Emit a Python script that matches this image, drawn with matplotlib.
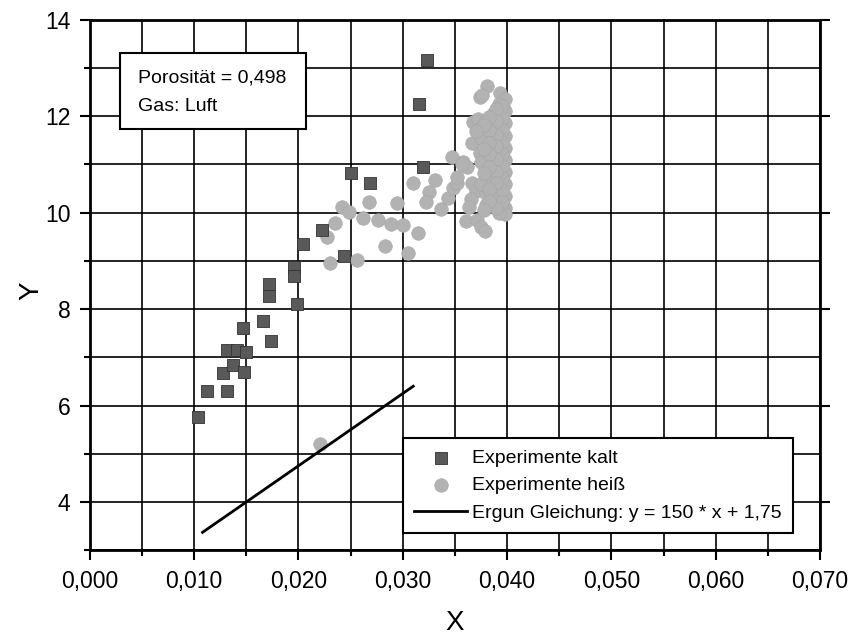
import numpy as np
import matplotlib.pyplot as plt
from matplotlib.patches import Rectangle
from matplotlib.ticker import MultipleLocator, FuncFormatter

plt.rcParams['font.family'] = ['Liberation Sans', 'DejaVu Sans']

# Experimente kalt (Quadrate)
x_kalt = [0.01035, 0.0112, 0.0131, 0.0128, 0.0137, 0.0148, 0.0131, 0.0141, 0.0150,
          0.0147, 0.0166, 0.0174, 0.0199, 0.0172, 0.0172, 0.0196, 0.0196, 0.0204,
          0.0223, 0.0244, 0.0250, 0.0269, 0.0316, 0.0323, 0.0319]
y_kalt = [5.76, 6.30, 6.30, 6.68, 6.84, 6.70, 7.15, 7.15, 7.11,
          7.61, 7.76, 7.34, 8.11, 8.52, 8.28, 8.88, 8.68, 9.35,
          9.64, 9.10, 10.83, 10.62, 12.26, 13.17, 10.95]

# Experimente heiss (Kreise)
x_heiss = [0.0221,
           0.0230, 0.0227, 0.0235, 0.0242, 0.0248, 0.0256, 0.0262, 0.0268, 0.0276,
           0.0283, 0.0289, 0.0294, 0.0300, 0.0305, 0.0310, 0.0315,
           0.0331, 0.0325, 0.0322, 0.0337, 0.0343, 0.0348, 0.0352, 0.0347, 0.0358,
           0.0362, 0.0366, 0.0370, 0.0365, 0.0363, 0.0361, 0.0371, 0.0375, 0.0379,
           0.0366, 0.0374, 0.0384, 0.0367, 0.0372, 0.0374, 0.0381, 0.0393, 0.0396,
           0.0376,
           0.0398, 0.0398, 0.0398, 0.0398, 0.0398, 0.0398, 0.0398, 0.0398, 0.0398,
           0.0398, 0.0398,
           0.0392, 0.0392, 0.0392, 0.0392, 0.0392, 0.0392, 0.0392, 0.0392, 0.0392,
           0.0392,
           0.0386, 0.0386, 0.0386, 0.0386, 0.0386, 0.0386, 0.0386, 0.0386,
           0.0380, 0.0380, 0.0380, 0.0380, 0.0380, 0.0380, 0.0380,
           0.0375, 0.0375, 0.0375, 0.0375,
           0.0395, 0.0395, 0.0395, 0.0395, 0.0395, 0.0395, 0.0395, 0.0395, 0.0395,
           0.0389, 0.0389, 0.0389, 0.0389, 0.0389, 0.0389, 0.0389, 0.0389,
           0.0383, 0.0383, 0.0383, 0.0383, 0.0383, 0.0383, 0.0383,
           0.0378, 0.0378, 0.0378, 0.0378, 0.0370, 0.0357, 0.0352]
y_heiss = [5.20,
           8.96, 9.50, 9.79, 10.12, 10.02, 9.02, 9.89, 10.22, 9.85,
           9.31, 9.77, 10.20, 9.75, 9.17, 10.62, 9.58,
           10.68, 10.42, 10.22, 10.08, 10.30, 10.52, 10.62, 11.16, 11.05,
           10.95, 10.62, 10.45, 10.28, 10.12, 9.82, 9.85, 9.70, 9.62,
           11.45, 11.24, 11.37, 11.88, 11.95, 12.40, 12.62, 12.48, 12.20,
           12.44,
           12.35, 12.10, 11.85, 11.60, 11.35, 11.10, 10.85, 10.60, 10.35,
           10.10, 9.98,
           12.25, 11.95, 11.70, 11.45, 11.20, 10.95, 10.70, 10.45, 10.20,
           10.00,
           12.05, 11.80, 11.55, 11.30, 11.05, 10.80, 10.55, 10.30,
           11.90, 11.65, 11.15, 10.90, 10.75, 10.40, 10.15,
           11.75, 11.55, 11.05, 10.60,
           12.22, 11.97, 11.72, 11.47, 11.22, 10.97, 10.72, 10.47, 10.22,
           12.15, 11.90, 11.62, 11.38, 11.12, 10.85, 10.62, 10.10,
           11.98, 11.72, 11.45, 11.22, 10.95, 10.50, 10.25,
           11.82, 11.32, 10.82, 10.05, 11.70, 11.00, 10.75]

# Ergun-Gleichung y = 150 * x + 1,75
steigung = 150
achse = 1.75
x_ergun = np.array([0.0108, 0.0310])
y_ergun = steigung * x_ergun + achse

fig = plt.figure(figsize=(8.56, 6.39), dpi=100)
ax = fig.add_axes([0.105, 0.139, 0.853, 0.830])

ax.scatter(x_heiss, y_heiss, s=9.8**2, marker='o', color='#b2b2b2',
           edgecolors='#a6a6a6', linewidths=0.4, zorder=3, label='Experimente heiß')
ax.scatter(x_kalt, y_kalt, s=8.6**2, marker='s', color='#595959',
           edgecolors='#333333', linewidths=0.6, zorder=4, label='Experimente kalt')
ax.plot(x_ergun, y_ergun, color='black', lw=2, zorder=5,
        label='Ergun Gleichung: y = 150 * x + 1,75')

ax.set_xlim(0, 0.07)
ax.set_ylim(3, 14)
ax.xaxis.set_major_locator(MultipleLocator(0.01))
ax.xaxis.set_minor_locator(MultipleLocator(0.005))
ax.yaxis.set_major_locator(MultipleLocator(2))
ax.yaxis.set_minor_locator(MultipleLocator(1))
ax.xaxis.set_major_formatter(FuncFormatter(lambda v, p: f'{v:.3f}'.replace('.', ',')))
ax.yaxis.set_major_formatter(FuncFormatter(lambda v, p: f'{v:.0f}'))

ax.grid(True, which='both', color='black', lw=1.2, zorder=1)
ax.set_axisbelow(True)
for s in ax.spines.values():
    s.set_linewidth(2)
ax.tick_params(which='major', direction='out', length=7, width=1.5,
               labelsize=16.5, pad=7)
ax.tick_params(which='minor', direction='out', length=4.5, width=1.5)
ax.tick_params(axis='y', which='major', right=True, labelright=False)

ax.set_xlabel('X', fontsize=20)
ax.set_ylabel('Y', fontsize=20)
ax.xaxis.set_label_coords(0.5, -0.112)
ax.yaxis.set_label_coords(-0.062, 0.49)

# Infobox oben links
ax.add_patch(Rectangle((0.0411, 0.7943), 0.2548, 0.1434, transform=ax.transAxes,
                       facecolor='white', edgecolor='black', lw=1.5, zorder=6))
ax.text(0.0658, 0.8906, 'Porosität = 0,498', transform=ax.transAxes,
        fontsize=14, va='center', ha='left', zorder=7)
ax.text(0.0658, 0.836, 'Gas: Luft', transform=ax.transAxes,
        fontsize=14, va='center', ha='left', zorder=7)

h, l = ax.get_legend_handles_labels()
order = [1, 0, 2]
leg = ax.legend([h[i] for i in order], [l[i] for i in order],
                loc='lower right', bbox_to_anchor=(0.963, 0.032), borderaxespad=0,
                fontsize=14, fancybox=False, framealpha=1, edgecolor='black',
                handlelength=2.7, handletextpad=0.25, labelspacing=0.5,
                borderpad=0.6, scatterpoints=1)
leg.get_frame().set_linewidth(1.5)
leg.set_zorder(8)

fig.savefig('out.png', dpi=100)
